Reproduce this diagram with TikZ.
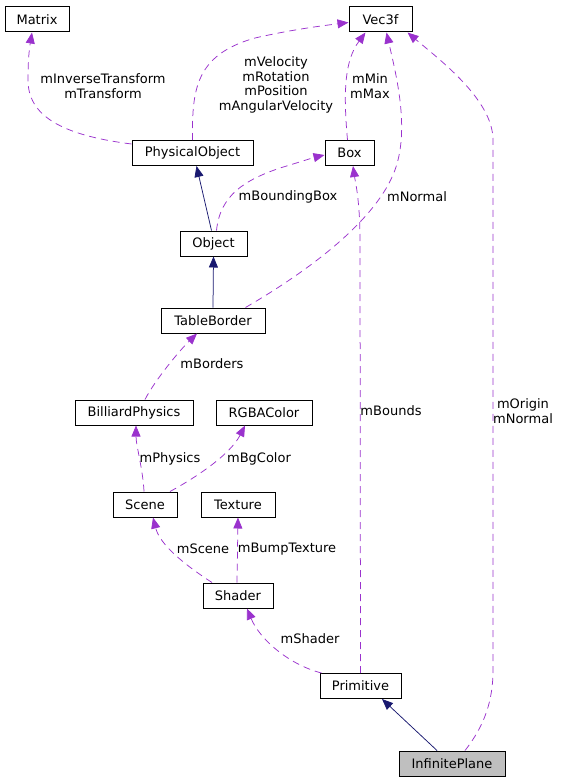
\documentclass[tikz,border=0pt]{standalone}
\usepackage{fontspec}
\setmainfont{DejaVu Sans}
\usetikzlibrary{arrows.meta}
\definecolor{usecol}{HTML}{9A32CD}
\definecolor{inhcol}{HTML}{191970}
\definecolor{curfill}{HTML}{BFBFBF}
\begin{document}
\begin{tikzpicture}[x=1pt,y=-1pt,
  cls/.style={draw=black,line width=1pt,rectangle,minimum height=25pt,inner sep=0pt,font=\fontsize{13}{14.5}\selectfont},
  lbl/.style={align=center,inner sep=0pt,font=\fontsize{13}{14.5}\selectfont},
  use/.style={draw=usecol,line width=0.75pt,dash pattern=on 7pt off 5pt,-{Triangle[length=11pt,width=9pt,fill=usecol]}},
  inh/.style={draw=inhcol,line width=0.75pt,-{Triangle[length=11pt,width=9pt,fill=inhcol]}}]
\useasboundingbox (0,0) rectangle (561,781);
\node[cls,minimum width=64pt] (m) at (37,19.5) {Matrix};
\node[cls,minimum width=63pt] (v) at (380.5,19.5) {Vec3f};
\node[cls,minimum width=121pt] (po) at (192.5,153) {PhysicalObject};
\node[cls,minimum width=49pt] (b) at (349.5,153) {Box};
\node[cls,minimum width=67pt] (o) at (213.5,243.5) {Object};
\node[cls,minimum width=104pt] (tb) at (213,320.5) {TableBorder};
\node[cls,minimum width=118pt] (bp) at (134,412.5) {BilliardPhysics};
\node[cls,minimum width=96pt] (rgb) at (264,412.5) {RGBAColor};
\node[cls,minimum width=64pt] (sc) at (145,504.5) {Scene};
\node[cls,minimum width=74pt] (tx) at (238,504.5) {Texture};
\node[cls,minimum width=70pt] (sh) at (238,595.5) {Shader};
\node[cls,minimum width=81pt] (p) at (360.5,686) {Primitive};
\node[cls,minimum width=106pt,fill=curfill] (ip) at (452,763.5) {InfinitePlane};

% usage edges
\draw[use] ([yshift=-4pt]po.north west) .. controls (60,135) and (28,115) .. (28,80) .. controls (28,55) and (30,45) .. ([xshift=-5pt]m.south);
\draw[use] (po.north) .. controls (192,90) and (195,55) .. (255,38) .. controls (290,30) and (320,26) .. ([yshift=-3pt]v.west);
\draw[use] ([xshift=3pt]o.north) .. controls (220,195) and (245,180) .. (280,168) .. controls (300,162) and (312,158) .. ([yshift=-2pt]b.west);
\draw[use] ([xshift=-2pt]b.north) .. controls (343,90) and (345,60) .. ([xshift=-15pt]v.south);
\draw[use] ([xshift=-20pt]tb.north east) .. controls (310,270) and (385,215) .. (398,160) .. controls (408,120) and (395,70) .. ([xshift=6pt]v.south);
\draw[use] ([xshift=13pt]ip.north) .. controls (485,725) and (493,700) .. (493,670) -- (493,140) .. controls (493,100) and (440,60) .. ([xshift=-5pt]v.south east);
\draw[use] (p.north) -- (360,240) .. controls (360,200) and (355,180) .. ([xshift=3.5pt]b.south);
\draw[use] ([xshift=11pt]bp.north) .. controls (155,380) and (180,350) .. ([xshift=-16pt]tb.south);
\draw[use] ([xshift=-1pt]sc.north) .. controls (143,470) and (136,445) .. ([xshift=2pt]bp.south);
\draw[use] ([xshift=25pt]sc.north) .. controls (195,478) and (230,455) .. ([xshift=-19pt]rgb.south);
\draw[use] ([xshift=-26pt]sh.north) .. controls (185,565) and (160,545) .. ([xshift=8pt]sc.south);
\draw[use] ([xshift=-1pt]sh.north) -- (tx.south);
\draw[use] ([xshift=2pt]p.north west) .. controls (290,665) and (260,640) .. ([xshift=9pt]sh.south);

% inheritance edges
\draw[inh] ([xshift=-2pt]o.north) -- ([xshift=4pt]po.south);
\draw[inh] (tb.north) -- (o.south);
\draw[inh] ([xshift=-15pt]ip.north) -- ([xshift=21.5pt]p.south);

% labels
\node[lbl] (l1) at (103,86) {mInverseTransform\\mTransform};
\node[lbl] (l2) at (276,85) {mVelocity\\mRotation\\mPosition\\mAngularVelocity};
\node[lbl] (l3) at (288,197) {mBoundingBox};
\node[lbl] (l4) at (370,86) {mMin\\mMax};
\node[lbl] (l5) at (417,197) {mNormal};
\node[lbl] (l6) at (523,411) {mOrigin\\mNormal};
\node[lbl] (l7) at (391,411) {mBounds};
\node[lbl] (l8) at (212,364) {mBorders};
\node[lbl] (l9) at (170,459) {mPhysics};
\node[lbl] (l10) at (259,459) {mBgColor};
\node[lbl] (l11) at (203,549) {mScene};
\node[lbl] (l12) at (287,549) {mBumpTexture};
\node[lbl] (l13) at (310,639) {mShader};
\end{tikzpicture}
\end{document}
